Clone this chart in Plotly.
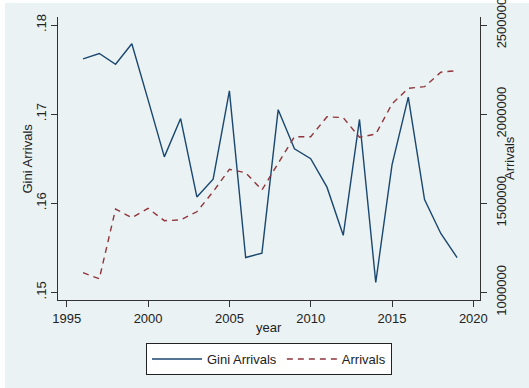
import plotly.graph_objects as go

# Annual series
years = list(range(1996, 2020))
gini_arrivals = [0.1762, 0.1768, 0.1756, 0.1779, 0.1716, 0.1652, 0.1695, 0.1607,
                 0.1627, 0.1726, 0.1539, 0.1544, 0.1705, 0.1661, 0.1650, 0.1618,
                 0.1564, 0.1694, 0.1511, 0.1643, 0.1719, 0.1604, 0.1566, 0.1539]
arrivals = [1110000, 1076000, 1467000, 1419000, 1471000, 1402000, 1406000, 1452000,
            1565000, 1690000, 1671000, 1574000, 1724000, 1873000, 1873000, 1985000,
            1980000, 1870000, 1888000, 2057000, 2145000, 2154000, 2235000, 2244000]

# Axis ticks
x_ticks = [1995, 2000, 2005, 2010, 2015, 2020]
gini_ticks = [0.15, 0.16, 0.17, 0.18]
gini_tick_text = [".15", ".16", ".17", ".18"]
arr_ticks = [1000000, 1500000, 2000000, 2500000]
arr_tick_text = ["1000000", "1500000", "2000000", "2500000"]

NAVY = "#1a476f"
MAROON = "#90353b"
BG = "#eaf2f3"
AXIS = "#333333"
TEXT = "#222222"
FONT = "Liberation Sans, Arial, sans-serif"

gini_range = [0.149136, 0.180898]
# right axis aligned so that 1,000,000 sits on .15 and each 500,000 on .01
arr_range = [1000000 + (g - 0.15) * 5e7 for g in gini_range]

fig = go.Figure()
fig.add_trace(go.Scatter(x=years, y=gini_arrivals, mode="lines", name="Gini Arrivals",
                         line=dict(color=NAVY, width=1.4)))
fig.add_trace(go.Scatter(x=years, y=arrivals, mode="lines", name="Arrivals", yaxis="y2",
                         line=dict(color=MAROON, width=1.4, dash="6px,5px")))

fig.update_layout(
    width=529, height=388,
    margin=dict(l=58, r=49, t=17, b=88, autoexpand=False),
    paper_bgcolor="white",
    plot_bgcolor="white",
    font=dict(family=FONT, size=13, color=TEXT),
    showlegend=True,
    legend=dict(orientation="h", x=0.5, xanchor="center", y=-0.152, yanchor="top",
                bgcolor="white", bordercolor=TEXT, borderwidth=1,
                itemwidth=50, font=dict(size=13), traceorder="normal"),
    xaxis=dict(range=[1994.46, 2020.41], tickvals=x_ticks, ticks="outside", ticklen=6,
               tickcolor=AXIS, showline=True, linecolor=AXIS, linewidth=1.3,
               showgrid=False, zeroline=False, automargin=False),
    yaxis=dict(range=gini_range, tickvals=gini_ticks, ticktext=gini_tick_text,
               tickangle=-90, ticks="outside", ticklen=6, tickcolor=AXIS,
               showline=True, linecolor=AXIS, linewidth=1.3, automargin=False,
               showgrid=True, gridcolor=BG, gridwidth=1.2, zeroline=False),
    yaxis2=dict(range=arr_range, tickvals=arr_ticks, ticktext=arr_tick_text,
                overlaying="y", side="right", tickangle=-90, ticks="outside",
                ticklen=6, tickcolor=AXIS, showline=True, linecolor=AXIS,
                linewidth=1.3, showgrid=False, zeroline=False, automargin=False,
                ticklabelstandoff=3, ticklabeloverflow="allow"),
    shapes=[dict(type="rect", xref="paper", yref="paper", layer="below",
                 x0=-0.1256, x1=1.12, y0=-0.32, y1=1.0495,
                 fillcolor=BG, line=dict(width=0))],
    annotations=[
        dict(text="Gini Arrivals", xref="paper", yref="paper", x=-0.0711, y=0.5,
             textangle=-90, showarrow=False, xanchor="center", yanchor="middle",
             font=dict(size=13, color=TEXT)),
        dict(text="Arrivals", xref="paper", yref="paper", x=1.070, y=0.5,
             textangle=-90, showarrow=False, xanchor="center", yanchor="middle",
             font=dict(size=13, color=TEXT)),
        dict(text="year", xref="paper", yref="paper", x=0.5, y=-0.0989,
             showarrow=False, xanchor="center", yanchor="middle",
             font=dict(size=13, color=TEXT)),
    ],
)

fig.write_html("out.html")
